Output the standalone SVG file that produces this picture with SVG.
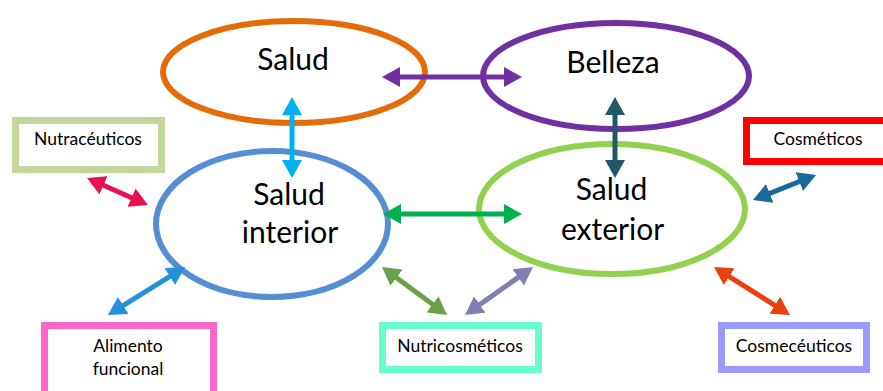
<svg xmlns="http://www.w3.org/2000/svg" width="883" height="391" viewBox="0 0 883 391">
<style>
.ell{fill:none;stroke-width:6}
.box{fill:#fff;stroke-width:7}
.big{font-family:Lato,"Liberation Sans",sans-serif;font-size:30px;fill:#000;text-anchor:middle}
.sm{font-family:Lato,"Liberation Sans",sans-serif;font-size:17.5px;fill:#000;text-anchor:middle}
.arr{stroke-width:5;fill:none}
</style>
<defs>
<marker id="m1" viewBox="0 0 18 20" refX="13" refY="10" markerWidth="18" markerHeight="20" markerUnits="userSpaceOnUse" orient="auto-start-reverse"><path d="M0,0L18,10L0,20Z" fill="#7030A0"/></marker>
<marker id="m2" viewBox="0 0 18 20" refX="13" refY="10" markerWidth="18" markerHeight="20" markerUnits="userSpaceOnUse" orient="auto-start-reverse"><path d="M0,0L18,10L0,20Z" fill="#00B0F0"/></marker>
<marker id="m3" viewBox="0 0 18 20" refX="13" refY="10" markerWidth="18" markerHeight="20" markerUnits="userSpaceOnUse" orient="auto-start-reverse"><path d="M0,0L18,10L0,20Z" fill="#215968"/></marker>
<marker id="m4" viewBox="0 0 18 20" refX="13" refY="10" markerWidth="18" markerHeight="20" markerUnits="userSpaceOnUse" orient="auto-start-reverse"><path d="M0,0L18,10L0,20Z" fill="#00B050"/></marker>
<marker id="m5" viewBox="0 0 18 20" refX="13" refY="10" markerWidth="18" markerHeight="20" markerUnits="userSpaceOnUse" orient="auto-start-reverse"><path d="M0,0L18,10L0,20Z" fill="#E8104F"/></marker>
<marker id="m6" viewBox="0 0 18 20" refX="13" refY="10" markerWidth="18" markerHeight="20" markerUnits="userSpaceOnUse" orient="auto-start-reverse"><path d="M0,0L18,10L0,20Z" fill="#176A99"/></marker>
<marker id="m7" viewBox="0 0 18 20" refX="13" refY="10" markerWidth="18" markerHeight="20" markerUnits="userSpaceOnUse" orient="auto-start-reverse"><path d="M0,0L18,10L0,20Z" fill="#2492DA"/></marker>
<marker id="m8" viewBox="0 0 18 20" refX="13" refY="10" markerWidth="18" markerHeight="20" markerUnits="userSpaceOnUse" orient="auto-start-reverse"><path d="M0,0L18,10L0,20Z" fill="#69A14C"/></marker>
<marker id="m9" viewBox="0 0 18 20" refX="13" refY="10" markerWidth="18" markerHeight="20" markerUnits="userSpaceOnUse" orient="auto-start-reverse"><path d="M0,0L18,10L0,20Z" fill="#7F7FB2"/></marker>
<marker id="m10" viewBox="0 0 18 20" refX="13" refY="10" markerWidth="18" markerHeight="20" markerUnits="userSpaceOnUse" orient="auto-start-reverse"><path d="M0,0L18,10L0,20Z" fill="#E8400E"/></marker>
</defs>
<rect width="883" height="391" fill="#fff"/>
<g id="salud"><ellipse class="ell" cx="294" cy="72" rx="131" ry="51" stroke="#E36C09"/><text class="big" x="293" y="70">Salud</text></g>
<g id="belleza"><ellipse class="ell" cx="616" cy="76" rx="133" ry="53" stroke="#7030A0"/><text class="big" x="613" y="73">Belleza</text></g>
<g id="salud-interior"><ellipse class="ell" cx="272" cy="224" rx="116" ry="73" stroke="#558ED5"/><text class="big" x="289" y="205">Salud</text><text class="big" x="290" y="243">interior</text></g>
<g id="salud-exterior"><ellipse class="ell" cx="612" cy="209" rx="133" ry="65" stroke="#92D050"/><text class="big" x="611.5" y="200">Salud</text><text class="big" x="612.5" y="240">exterior</text></g>
<g id="nutraceuticos"><rect class="box" x="15.5" y="120.5" width="146" height="49" stroke="#C3D69B"/><text class="sm" x="88" y="145">Nutracéuticos</text></g>
<g id="cosmeticos"><rect class="box" x="746.5" y="120.5" width="150" height="41" stroke="#FF0000"/><text class="sm" x="818" y="145">Cosméticos</text></g>
<g id="alimento"><rect class="box" x="44.5" y="325.5" width="169" height="80" stroke="#FF66CC"/><text class="sm" x="128" y="352">Alimento</text><text class="sm" x="128" y="375">funcional</text></g>
<g id="nutricosmeticos"><rect class="box" x="382.5" y="325.5" width="156" height="44" stroke="#66FFCC"/><text class="sm" x="460" y="352">Nutricosméticos</text></g>
<g id="cosmeceuticos"><rect class="box" x="721.5" y="325.5" width="145" height="44" stroke="#9999FF"/><text class="sm" x="794" y="352">Cosmecéuticos</text></g>
<g id="connectors">
<line class="arr" x1="387" y1="77" x2="517" y2="77" stroke="#7030A0" marker-start="url(#m1)" marker-end="url(#m1)"/>
<line class="arr" x1="292" y1="102" x2="292" y2="173" stroke="#00B0F0" marker-start="url(#m2)" marker-end="url(#m2)"/>
<line class="arr" x1="615" y1="102" x2="615" y2="173" stroke="#215968" marker-start="url(#m3)" marker-end="url(#m3)"/>
<line class="arr" x1="388" y1="214" x2="517" y2="214" stroke="#00B050" marker-start="url(#m4)" marker-end="url(#m4)"/>
<line class="arr" x1="91.6" y1="180" x2="143.4" y2="203" stroke="#E8104F" marker-start="url(#m5)" marker-end="url(#m5)"/>
<line class="arr" x1="757.6" y1="198.2" x2="811.4" y2="176.8" stroke="#176A99" marker-start="url(#m6)" marker-end="url(#m6)"/>
<line class="arr" x1="112.2" y1="312.4" x2="180.8" y2="269.6" stroke="#2492DA" marker-start="url(#m7)" marker-end="url(#m7)"/>
<line class="arr" x1="386" y1="270" x2="443" y2="312" stroke="#69A14C" marker-start="url(#m8)" marker-end="url(#m8)"/>
<line class="arr" x1="469.1" y1="312.1" x2="528.9" y2="269.9" stroke="#7F7FB2" marker-start="url(#m9)" marker-end="url(#m9)"/>
<line class="arr" x1="718.2" y1="269.7" x2="785.8" y2="312.3" stroke="#E8400E" marker-start="url(#m10)" marker-end="url(#m10)"/>
</g>
</svg>
